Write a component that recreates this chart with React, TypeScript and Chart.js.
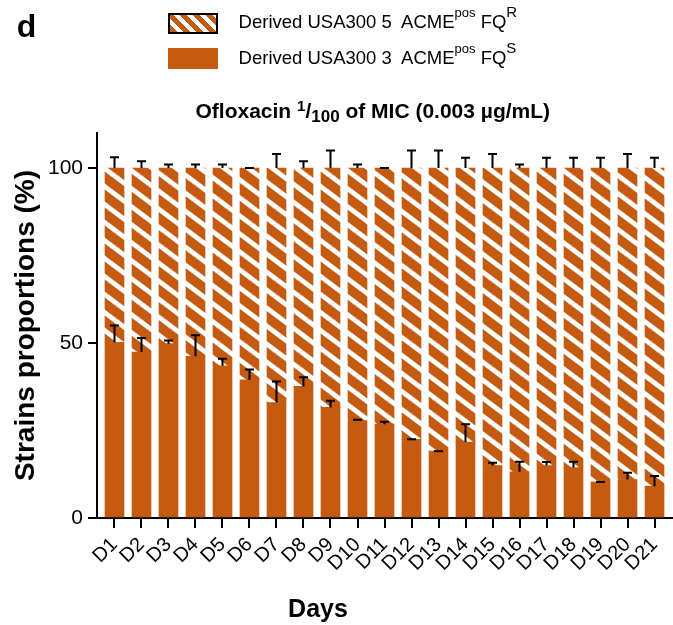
import React, { useEffect, useRef } from 'react';
import { Chart, registerables } from 'chart.js';

Chart.register(...registerables);

const FONT = '"Liberation Sans", Arial, Helvetica, sans-serif';
const ORANGE = '#C55A11';

// Categories (days)
const days = ['D1', 'D2', 'D3', 'D4', 'D5', 'D6', 'D7', 'D8', 'D9', 'D10', 'D11', 'D12', 'D13', 'D14', 'D15', 'D16', 'D17', 'D18', 'D19', 'D20', 'D21'];
// Derived USA300 3 ACMEpos FQS (bottom, solid) – mean proportion (%)
const fqsMean = [50.2, 47.4, 49.8, 46.2, 43.5, 39.5, 33.0, 37.6, 31.6, 27.8, 26.8, 22.5, 19.1, 21.7, 15.0, 13.2, 15.0, 14.4, 10.3, 11.0, 9.1];
// upper error of FQS segment
const fqsErr = [4.8, 4.0, 0.9, 6.0, 2.0, 2.9, 6.0, 2.6, 1.9, 0.3, 0.7, 0.0, 0.0, 5.1, 0.8, 2.9, 1.0, 1.7, 0.0, 1.9, 2.9];
// Derived USA300 5 ACMEpos FQR (top, hatched) – mean proportion (%)
const fqrMean = [49.8, 52.6, 50.2, 53.8, 56.5, 60.5, 67.0, 62.4, 68.4, 72.2, 73.2, 77.5, 80.9, 78.3, 85.0, 86.8, 85.0, 85.6, 89.7, 89.0, 90.9];
// upper error of FQR segment (stack top)
const fqrErr = [3.1, 1.9, 1.0, 1.0, 1.0, 0.0, 4.0, 1.9, 5.0, 1.0, 0.0, 5.0, 5.0, 2.9, 4.0, 1.0, 2.9, 2.9, 2.9, 4.0, 2.9];
// Y tick values
const yTicks = [0, 50, 100];

function makeHatch(ctx: CanvasRenderingContext2D) {
  const c = document.createElement('canvas');
  c.width = 24;
  c.height = 18;
  const g = c.getContext('2d')!;
  g.fillStyle = ORANGE;
  g.fillRect(0, 0, 24, 18);
  g.strokeStyle = '#ffffff';
  g.lineWidth = 4.8;
  for (const o of [-1, 0, 1]) {
    g.beginPath();
    g.moveTo(-2, o * 18 - 1.5);
    g.lineTo(26, o * 18 + 19.5);
    g.stroke();
  }
  return ctx.createPattern(c, 'repeat')!;
}

const errorBarPlugin = {
  id: 'errorBars',
  afterDatasetsDraw(chart: any) {
    const { ctx, scales } = chart;
    const x = scales.x;
    const y = scales.y;
    ctx.save();
    ctx.strokeStyle = '#000';
    ctx.lineWidth = 2;
    days.forEach((_d, i) => {
      const px = x.getPixelForValue(i + 1);
      const segs: [number, number][] = [
        [fqsMean[i], fqsErr[i]],
        [fqsMean[i] + fqrMean[i], fqrErr[i]],
      ];
      segs.forEach(([m, e]) => {
        const y0 = y.getPixelForValue(m);
        const y1 = y.getPixelForValue(m + e);
        ctx.beginPath();
        ctx.moveTo(px, y0);
        ctx.lineTo(px, y1);
        ctx.moveTo(px - 4.5, y1);
        ctx.lineTo(px + 4.5, y1);
        ctx.stroke();
      });
    });
    ctx.restore();
  },
};

export default function App() {
  const ref = useRef<HTMLCanvasElement>(null);

  useEffect(() => {
    const canvas = ref.current!;
    const ctx = canvas.getContext('2d')!;
    Chart.defaults.font.family = FONT;
    Chart.defaults.color = '#000';
    const hatch = makeHatch(ctx);
    const chart = new Chart(ctx, {
      type: 'bar',
      data: {
        datasets: [
          {
            label: 'Derived USA300 3 ACMEpos FQS',
            data: fqsMean.map((v, i) => ({ x: i + 1, y: v })),
            backgroundColor: ORANGE,
            borderWidth: 0,
            barThickness: 19,
          },
          {
            label: 'Derived USA300 5 ACMEpos FQR',
            data: fqrMean.map((v, i) => ({ x: i + 1, y: v })),
            backgroundColor: hatch,
            borderWidth: 0,
            barThickness: 19,
          },
        ],
      },
      options: {
        animation: false,
        responsive: false,
        devicePixelRatio: 1,
        layout: { padding: { top: 133, right: 0, left: 0, bottom: 0 } },
        plugins: {
          legend: { display: false },
          title: { display: false },
          tooltip: { enabled: false },
        },
        scales: {
          x: {
            type: 'linear',
            stacked: true,
            offset: false,
            min: 0.352,
            max: 21.685,
            afterBuildTicks: (axis: any) => {
              axis.ticks = days.map((_d, i) => ({ value: i + 1 }));
            },
            afterFit: (axis: any) => {
              axis.height = 107;
              axis.paddingLeft = 0;
              axis.paddingRight = 0;
            },
            ticks: {
              includeBounds: false,
              autoSkip: false,
              stepSize: 1,
              minRotation: 45,
              maxRotation: 45,
              padding: 5,
              font: { size: 20 },
              color: '#000',
              callback: (v: any) => days[Math.round(v) - 1] ?? '',
            },
            grid: { display: true, offset: false, drawOnChartArea: false, drawTicks: true, tickLength: 10, color: '#000', lineWidth: 2 },
            border: { display: true, color: '#000', width: 2 },
          },
          y: {
            stacked: true,
            min: 0,
            max: 110,
            afterBuildTicks: (axis: any) => {
              axis.ticks = yTicks.map((v) => ({ value: v }));
            },
            afterFit: (axis: any) => {
              axis.width = 97;
            },
            ticks: { font: { size: 21 }, color: '#000', padding: 5 },
            grid: { display: true, drawOnChartArea: false, drawTicks: true, tickLength: 9, color: '#000', lineWidth: 2 },
            border: { display: true, color: '#000', width: 2 },
            title: {
              display: true,
              text: 'Strains proportions (%)',
              font: { size: 28, weight: 'bold' },
              color: '#000',
              padding: { top: 9, bottom: 0 },
            },
          },
        },
      },
      plugins: [errorBarPlugin],
    } as any);
    return () => chart.destroy();
  }, []);

  const sup = (t: string, size: number, raise: number) => (
    <span style={{ fontSize: size, position: 'relative', top: -raise }}>{t}</span>
  );

  return (
    <div style={{ position: 'fixed', left: 0, top: 0, width: 673, height: 625, background: '#fff', fontFamily: FONT, color: '#000' }}>
      <canvas ref={ref} width={673} height={625} style={{ position: 'absolute', left: 0, top: 0, display: 'block' }} />
      <div style={{ position: 'absolute', left: 16.7, top: 9.9, fontSize: 32, fontWeight: 'bold', lineHeight: 1 }}>d</div>

      <div
        style={{
          position: 'absolute', left: 168, top: 13, width: 50, height: 21, boxSizing: 'border-box',
          border: '2px solid #000',
          background: `repeating-linear-gradient(45deg, ${ORANGE} 0px, ${ORANGE} 5.5px, #fff 5.5px, #fff 9.2px)`,
        }}
      />
      <div style={{ position: 'absolute', left: 168, top: 48, width: 50, height: 21, background: ORANGE }} />

      <div style={{ position: 'absolute', left: 238.6, top: 13, fontSize: 18.5, lineHeight: 1, whiteSpace: 'pre' }}>
        {'Derived USA300 5  ACME'}{sup('pos', 13, 11)}{' FQ'}{sup('R', 15, 11)}
      </div>
      <div style={{ position: 'absolute', left: 238.6, top: 49.1, fontSize: 18.5, lineHeight: 1, whiteSpace: 'pre' }}>
        {'Derived USA300 3  ACME'}{sup('pos', 13, 11)}{' FQ'}{sup('S', 15, 11)}
      </div>

      <div style={{ position: 'absolute', left: 195.5, top: 99.5, fontSize: 21, fontWeight: 'bold', lineHeight: 1, whiteSpace: 'pre' }}>
        {'Ofloxacin '}{sup('1', 15, 6.6)}{'/'}{sup('100', 17, -4)}{' of MIC (0.003 µg/mL)'}
      </div>

      <div style={{ position: 'absolute', left: 218, width: 200, textAlign: 'center', top: 596.3, fontSize: 25, fontWeight: 'bold', lineHeight: 1 }}>
        Days
      </div>
    </div>
  );
}
